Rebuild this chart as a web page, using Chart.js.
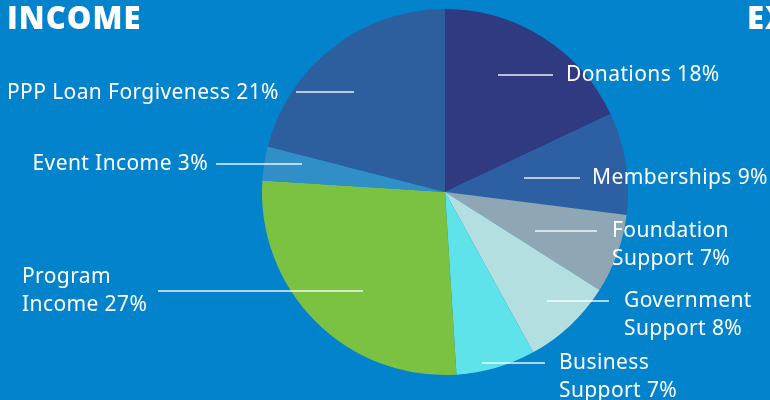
<!DOCTYPE html>
<html>
<head>
<meta charset="utf-8">
<script src="https://cdn.jsdelivr.net/npm/chart.js@4"></script>
<style>
  html, body { margin: 0; padding: 0; background: #0483cd; }
  #wrap { position: relative; width: 770px; height: 400px; overflow: hidden; }
</style>
</head>
<body>
<div id="wrap"><canvas id="income-chart" width="770" height="400"></canvas></div>
<script>
// Données du graphique (sens horaire depuis midi)
const categories = ['Donations', 'Memberships', 'Foundation Support', 'Government Support',
  'Business Support', 'Program Income', 'Event Income', 'PPP Loan Forgiveness'];
const shares = [18, 9, 7, 8, 7, 27, 3, 21];
const sliceColors = ['#2f3a80', '#2d5fa3', '#8fa7b5', '#b3dfe0', '#5fe3ea', '#7cc242', '#2f8fc6', '#2d5f9f'];

// Libellés affichés : lignes de texte, position du texte, segment de rappel
const labelLines = [
  ['Donations 18%'],
  ['Memberships 9%'],
  ['Foundation', 'Support 7%'],
  ['Government', 'Support 8%'],
  ['Business', 'Support 7%'],
  ['Program', 'Income 27%'],
  ['Event Income 3%'],
  ['PPP Loan Forgiveness 21%']
];
const labelLayout = [
  { x: 566, y: 75,  align: 'left',  line: [498, 553, 75] },
  { x: 592, y: 178, align: 'left',  line: [524, 580, 178] },
  { x: 612, y: 231, align: 'left',  line: [535, 597, 231] },
  { x: 624, y: 301, align: 'left',  line: [547, 609, 301] },
  { x: 559, y: 363, align: 'left',  line: [482, 545, 363] },
  { x: 22,  y: 277, align: 'left',  line: [158, 363, 291] },
  { x: 208, y: 164, align: 'right', line: [216, 302, 164] },
  { x: 7,   y: 93,  align: 'left',  line: [296, 354, 92] }
];

// Plugin pour le titre et les libellés
const calloutPlugin = {
  id: 'callouts',
  afterDraw(chart) {
    const ctx = chart.ctx;
    ctx.save();
    ctx.fillStyle = '#ffffff';
    ctx.textBaseline = 'middle';
    ctx.font = '800 31px "Open Sans", sans-serif';
    ctx.letterSpacing = '1px';
    ctx.textAlign = 'left';
    ctx.fillText('INCOME', 7, 20);
    ctx.fillText('EXPENSES', 747, 20);

    ctx.strokeStyle = 'rgba(255,255,255,0.9)';
    ctx.lineWidth = 1.5;
    ctx.font = '21px "Noto Sans", sans-serif';
    ctx.letterSpacing = '0.4px';
    labelLayout.forEach((lay, i) => {
      const [x1, x2, ly] = lay.line;
      ctx.beginPath();
      ctx.moveTo(x1, ly);
      ctx.lineTo(x2, ly);
      ctx.stroke();
      ctx.textAlign = lay.align;
      labelLines[i].forEach((txt, j) => {
        ctx.fillText(txt, lay.x, lay.y + j * 28);
      });
    });
    ctx.restore();
  }
};

const ctx = document.getElementById('income-chart').getContext('2d');
const incomeChart = new Chart(ctx, {
  type: 'pie',
  data: {
    labels: categories,
    datasets: [{
      data: shares,
      backgroundColor: sliceColors,
      borderWidth: 0
    }]
  },
  options: {
    responsive: false,
    animation: false,
    layout: { padding: { top: 9, bottom: 25, left: 262, right: 142 } },
    plugins: {
      legend: { display: false },
      tooltip: { enabled: false }
    }
  },
  plugins: [calloutPlugin]
});
</script>
</body>
</html>
